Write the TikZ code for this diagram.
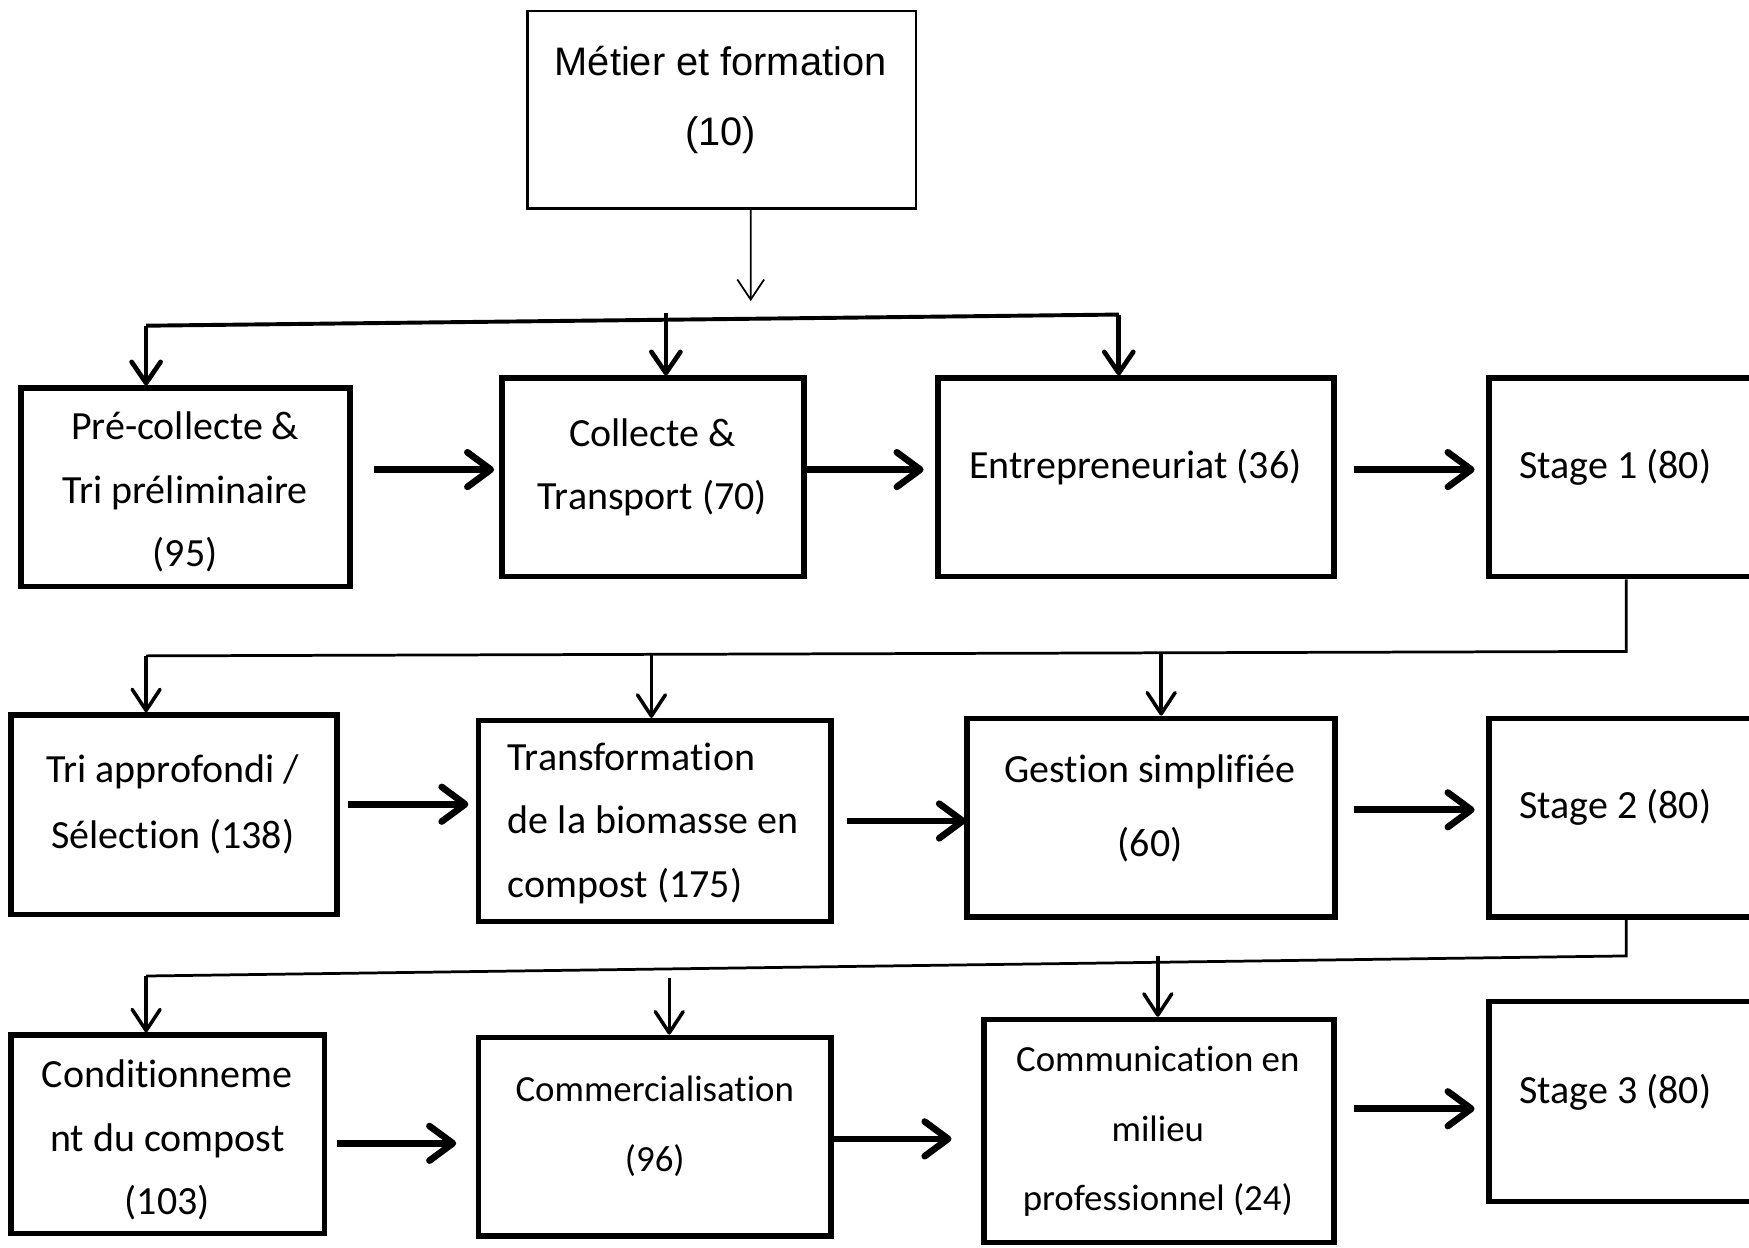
\documentclass[tikz,border=0pt]{standalone}
\usepackage{fontspec}
\setmainfont{Carlito}[Ligatures=NoCommon,Contextuals=NoAlternate,RawFeature={-liga;-clig}]
\newfontfamily\arialf{Liberation Sans}
\usetikzlibrary{arrows.meta}
\begin{document}
\begin{tikzpicture}[x=0.02cm,y=-0.02cm,
  box/.style={draw, line width=2.8pt, inner sep=0pt, minimum height=3.56cm},
  tbox/.style={draw, line width=1.2pt, inner sep=0pt},
  txt/.style={inner sep=0pt, align=center, font=\fontsize{20.4}{32.4}\selectfont},
  stxt/.style={inner sep=0pt, align=center, font=\fontsize{18.8}{35.5}\selectfont},
  harrow/.style={line width=3.4pt, -{Straight Barb[round,length=0.42cm,width=0.62cm]}},
  varrow/.style={line width=2.4pt, -{Straight Barb[round,length=0.38cm,width=0.52cm]}},
  varrowb/.style={line width=1.8pt, -{Straight Barb[round,length=0.38cm,width=0.50cm]}},
  bus/.style={line width=2pt},
  busb/.style={line width=1.4pt},
  thinarrow/.style={line width=0.9pt, -{Straight Barb[length=0.36cm,width=0.48cm]}}
]
\useasboundingbox (0,0) rectangle (1568,1118);
\clip (0,0) rectangle (1568,1118);
\fill[white] (0,0) rectangle (1568,1118);

% top box
\node[tbox, minimum width=6.96cm, minimum height=3.54cm] (T) at (647,98.5) {};
\node[inner sep=0pt, align=center, font=\arialf\fontsize{20.3}{35.7}\selectfont] (Tt) at (646,89.5) {Métier et formation\\(10)};

% row 1
\node[box, minimum width=5.90cm] (B1) at (166.5,437) {};
\node[txt] (B1t) at (166,441) {Pré-collecte \&\\Tri préliminaire\\(95)};
\node[box, minimum width=5.42cm] (B2) at (585.5,428) {};
\node[txt] (B2t) at (585,419) {Collecte \&\\Transport (70)};
\node[box, minimum width=7.10cm] (B3) at (1018.5,428) {};
\node[txt] (B3t) at (1018,419) {Entrepreneuriat (36)};
\node[box, minimum width=5.10cm] (B4) at (1462.5,428) {};
\node[txt] (B4t) at (1448,419) {Stage 1 (80)};

% row 2
\node[box, minimum width=5.84cm, minimum height=3.58cm] (C1) at (156,730.5) {};
\node[txt, font=\fontsize{20.4}{34}\selectfont] (C1t) at (155,721) {Tri approfondi /\\Sélection (138)};
\node[box, minimum width=6.32cm, minimum height=3.60cm] (C2) at (587,736) {};
\node[txt, align=left, anchor=west] (C2t) at (455,738) {Transformation\\de la biomasse en\\compost (175)};
\node[box, minimum width=6.60cm] (C3) at (1032,733) {};
\node[txt, font=\fontsize{20.4}{38}\selectfont] (C3t) at (1031,724.5) {Gestion simplifiée\\(60)};
\node[box, minimum width=5.10cm] (C4) at (1462.5,733) {};
\node[txt] (C4t) at (1448,724) {Stage 2 (80)};

% row 3
\node[box, minimum width=5.62cm] (D1) at (150.5,1017) {};
\node[txt] (D1t) at (150,1022) {Conditionneme\\nt du compost\\(103)};
\node[box, minimum width=6.32cm] (D2) at (587,1019) {};
\node[stxt] (D2t) at (587,1009.5) {Commercialisation\\(96)};
\node[box, minimum width=6.28cm, minimum height=4.00cm] (D3) at (1039,1014) {};
\node[stxt] (D3t) at (1038,1014.5) {Communication en\\milieu\\professionnel (24)};
\node[box, minimum width=5.10cm, minimum height=3.58cm] (D4) at (1462.5,987.5) {};
\node[txt] (D4t) at (1448,979) {Stage 3 (80)};

% top connector
\coordinate (tEnd) at (673,270);
\draw[thinarrow] ([xshift=0.52cm]T.south) -- (tEnd);

% bus row 1
\coordinate (bL) at (131,292);
\coordinate (bR) at (1003,282);
\coordinate (bM) at (597,281);
\draw[bus] (bL) -- (bR);
\draw[varrow] (bL) -- (bL |- B1.north);
\draw[varrow] (bM) -- (bM |- B2.north);
\draw[varrow] (bR) -- (bR |- B3.north);

% horizontal arrows row 1
\coordinate (h1a) at (335,421); \coordinate (h1b) at (443,421);
\coordinate (h2a) at (723,421); \coordinate (h2b) at (828,421);
\coordinate (h3a) at (1214,421); \coordinate (h3b) at (1322,421);
\draw[harrow] (h1a) -- (h1b);
\draw[harrow] (h2a) -- (h2b);
\draw[harrow] (h3a) -- (h3b);

% bus row 2
\coordinate (c2R) at (1458,584);
\coordinate (c2L) at (131,588);
\coordinate (c2M) at (584,587);
\coordinate (c2N) at (1041,586);
\draw[busb] ([xshift=-0.09cm]B4.south) -- (c2R) -- (c2L);
\draw[varrowb] (c2L) -- (c2L |- C1.north);
\draw[varrowb] (c2M) -- (c2M |- C2.north);
\draw[varrowb] (c2N) -- (c2N |- C3.north);

% horizontal arrows row 2
\coordinate (i1a) at (312,721); \coordinate (i1b) at (420,721);
\coordinate (i2a) at (759,736); \coordinate (i2b) at (866,736);
\coordinate (i3a) at (1214,726); \coordinate (i3b) at (1322,726);
\draw[harrow] (i1a) -- (i1b);
\draw[harrow] (i2a) -- (i2b);
\draw[harrow] (i3a) -- (i3b);

% bus row 3
\coordinate (c3R) at (1458,857);
\coordinate (c3L) at (131,875);
\coordinate (c3M) at (600,877);
\coordinate (c3N) at (1038,857);
\draw[busb] ([xshift=-0.09cm]C4.south) -- (c3R) -- (c3L);
\draw[varrowb] (c3L) -- (c3L |- D1.north);
\draw[varrowb] (c3M) -- (c3M |- D2.north);
\draw[varrowb] (c3N) -- (c3N |- D3.north);

% horizontal arrows row 3
\coordinate (j1a) at (302,1025); \coordinate (j1b) at (409,1025);
\coordinate (j2a) at (747,1021); \coordinate (j2b) at (853,1021);
\coordinate (j3a) at (1214,994); \coordinate (j3b) at (1322,994);
\draw[harrow] (j1a) -- (j1b);
\draw[harrow] (j2a) -- (j2b);
\draw[harrow] (j3a) -- (j3b);
\end{tikzpicture}
\end{document}
